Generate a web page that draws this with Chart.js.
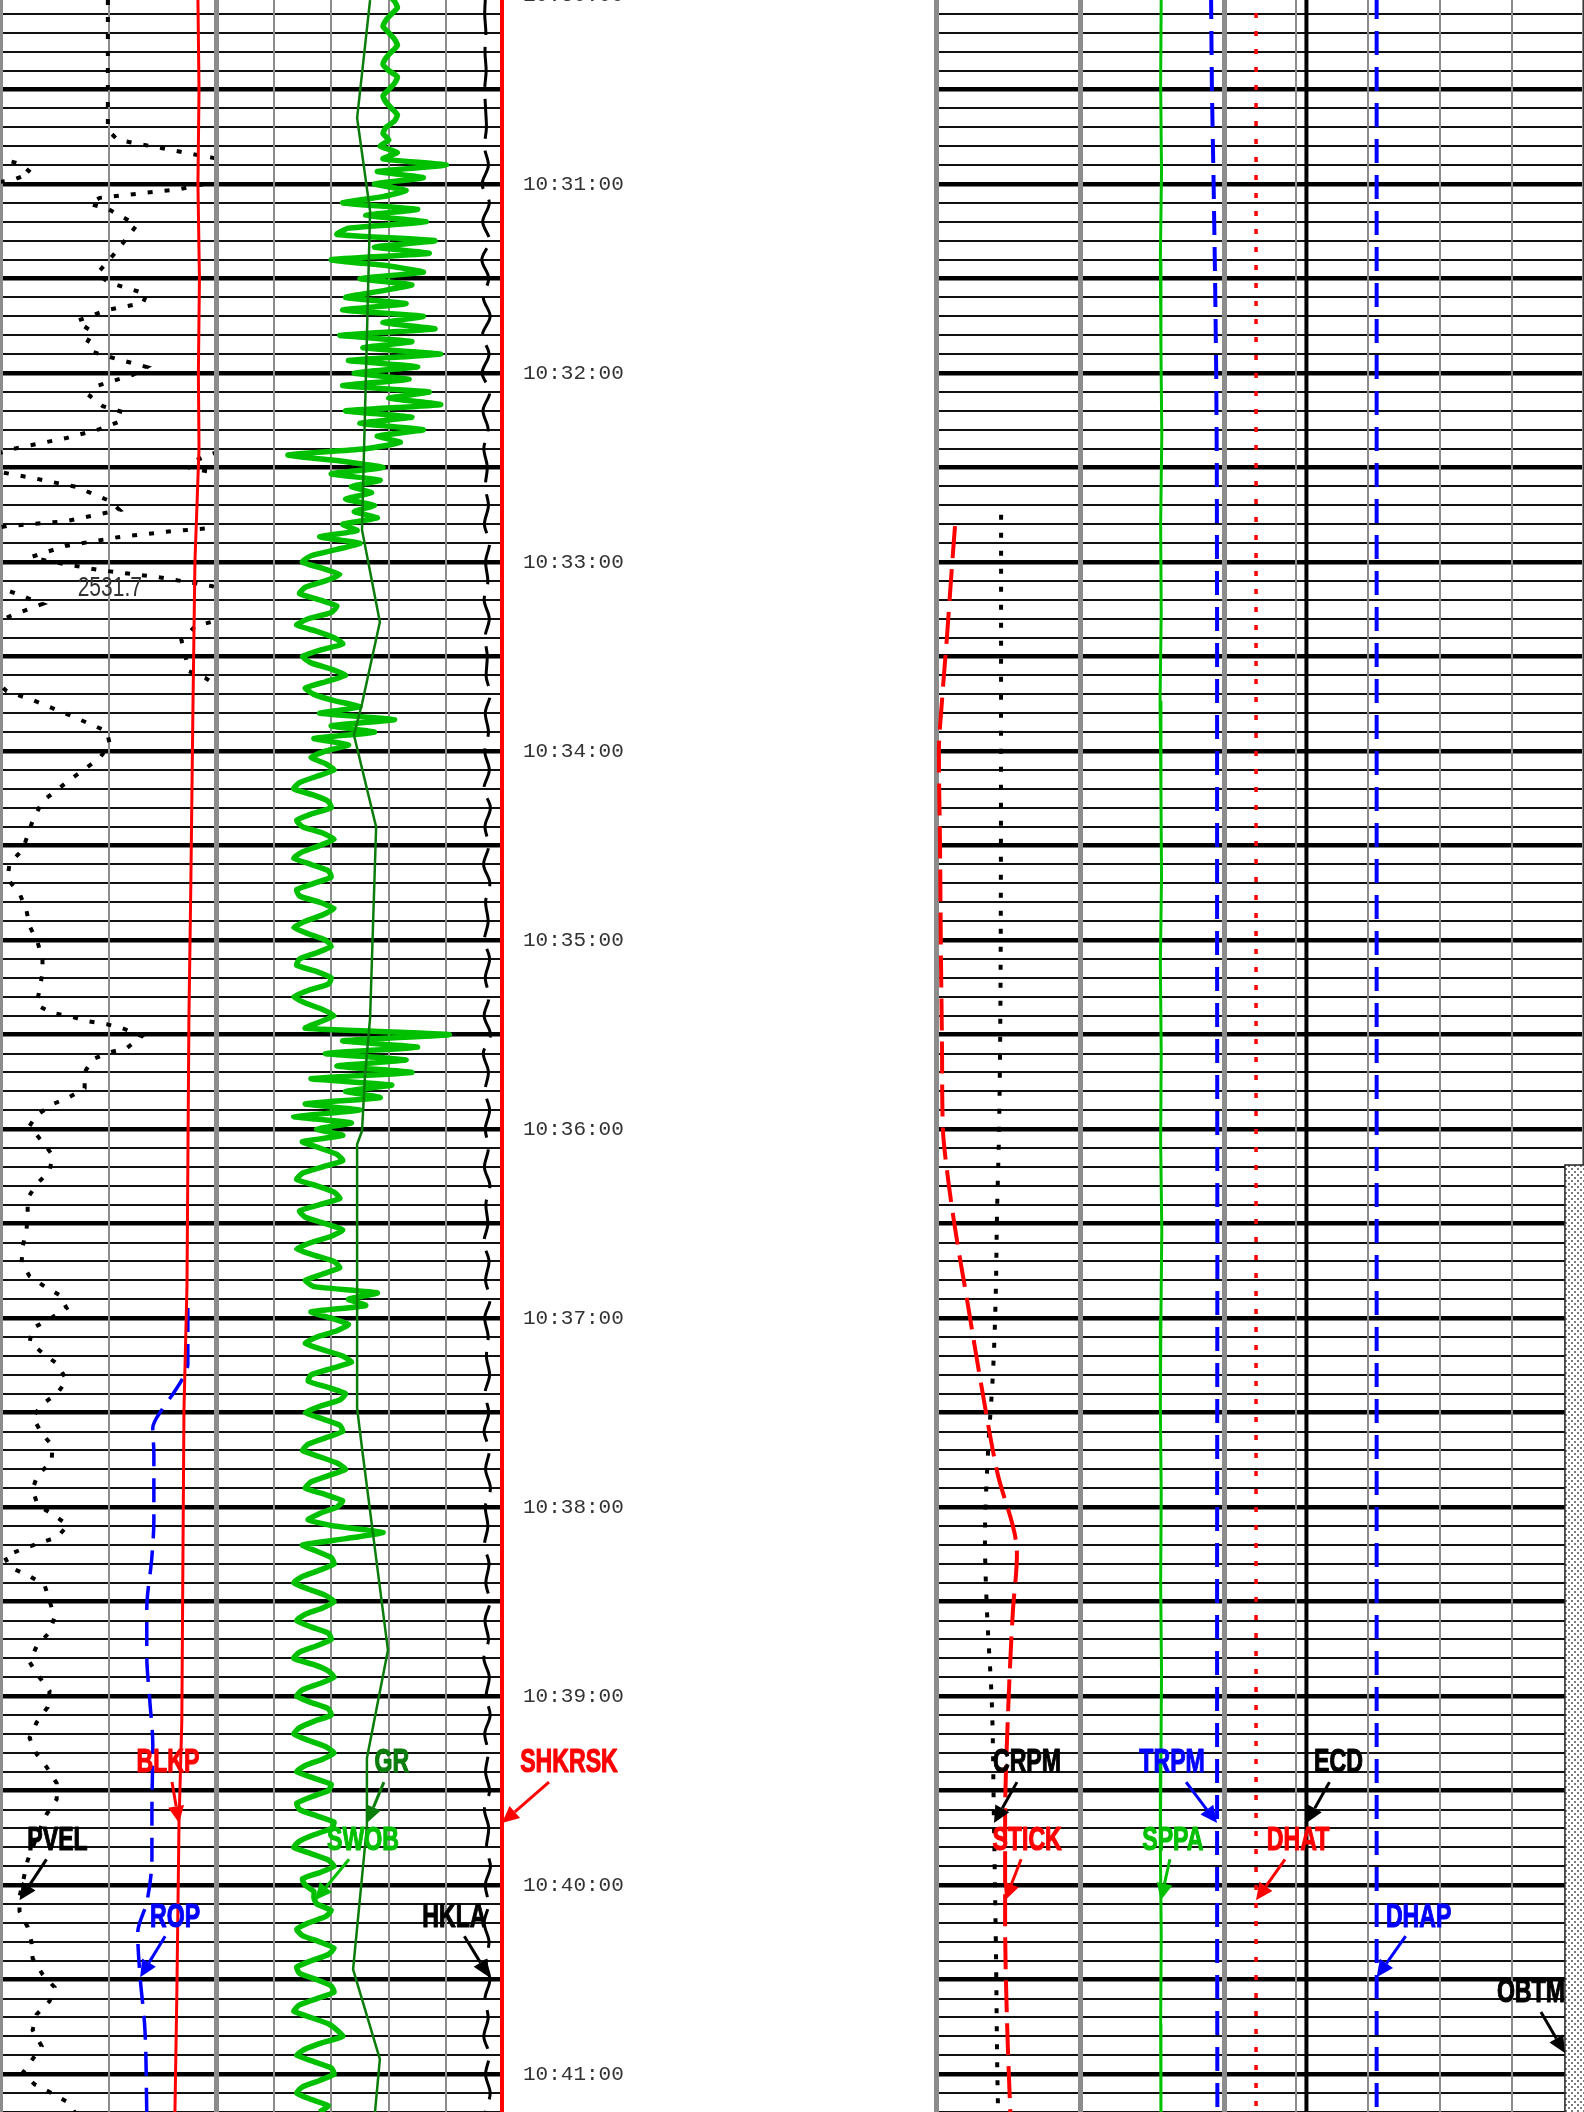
<!DOCTYPE html>
<html>
<head>
<meta charset="utf-8">
<script src="https://cdn.jsdelivr.net/npm/chart.js"></script>
<style>
  html, body { margin: 0; padding: 0; background: #fff; }
  #log { position: relative; width: 1584px; height: 2112px; overflow: hidden; background: #fff; }
  #log canvas { position: absolute; }
</style>
</head>
<body>
<div id="log"></div>
<script>
// time = seconds after 10:30:00, depth scale runs downwards
const tMin = 0, tMax = 672;

// ---------- track 1 (values in % of track width) ----------
const pvel = [[1.6, 49.7], [42.9, 49.7], [46.0, 54.3], [51.7, 98.6], [53.7, 109.3], [56.5, 114.0], [58.7, 105.6], [59.4, 99.0],
  [61.6, 83.2], [64.4, 45.9], [66.3, 41.3], [67.9, 49.7], [73.0, 63.2], [81.3, 53.8], [88.6, 44.5], [91.4, 50.6],
  [94.9, 67.8], [97.8, 66.0], [100.0, 49.2], [103.5, 35.2], [105.7, 39.9], [107.0, 42.7], [110.5, 39.9], [113.3, 42.7],
  [114.9, 50.6], [118.1, 67.8], [120.6, 61.3], [124.1, 44.5], [127.3, 41.3], [130.5, 47.3], [132.4, 56.6], [135.6, 54.3],
  [137.8, 45.9], [140.6, 30.5], [144.1, 5.4], [145.7, -2.1], [148.3, -11.4], [149.8, -13.8], [151.1, -4.9], [151.4, -0.7],
  [153.3, 14.7], [156.2, 35.2], [160.6, 50.6], [163.5, 55.2], [164.8, 45.9], [167.0, 30.5], [168.6, 2.6], [169.2, -2.1],
  [170.2, -20.7], [172.1, -45.5], [174.9, -70.2], [178.4, -86.0], [179.7, -78.1], [182.5, -54.8], [184.8, -26.8], [187.6, -2.1],
  [193.3, 19.3], [196.8, 5.4], [199.0, -2.1], [200.3, -9.6], [204.8, -16.1], [209.8, -14.2], [214.6, -12.8], [216.8, -4.9],
  [218.7, -0.7], [221.0, 2.6], [223.8, 14.7], [228.6, 31.9], [233.7, 49.2], [237.8, 50.6], [242.2, 45.9], [249.2, 31.9],
  [255.9, 19.3], [262.2, 14.7], [271.4, 10.0], [275.6, 4.0], [280.6, 3.0], [285.1, 8.6], [290.8, 11.9], [295.6, 13.3],
  [300.6, 17.0], [306.3, 19.3], [310.5, 19.3], [315.6, 17.9], [320.6, 16.6], [323.2, 24.0], [324.1, 31.9], [325.7, 39.9],
  [326.7, 49.2], [328.0, 56.6], [330.5, 65.5], [334.3, 58.5], [335.6, 50.6], [337.8, 42.7], [341.9, 38.9], [347.0, 38.9],
  [349.8, 31.9], [352.1, 24.0], [355.6, 16.6], [359.0, 13.3], [364.1, 19.3], [368.3, 24.0], [373.3, 22.6], [377.5, 16.6],
  [381.9, 12.4], [387.6, 12.4], [391.7, 11.9], [397.5, 10.0], [402.5, 9.6], [406.7, 13.3], [409.5, 19.3], [412.7, 27.3],
  [416.8, 30.5], [420.3, 22.6], [423.2, 14.7], [427.6, 13.3], [431.1, 19.3], [434.6, 26.3], [439.7, 30.5], [443.8, 26.3],
  [447.3, 19.3], [451.4, 14.7], [456.5, 18.9], [460.6, 24.0], [465.7, 23.5], [469.8, 17.0], [474.3, 14.7], [479.4, 17.0],
  [482.2, 24.0], [485.7, 31.0], [489.5, 26.3], [491.4, 17.9], [493.3, 10.0], [495.6, 1.6], [499.0, 4.0], [501.9, 13.3],
  [504.8, 20.3], [509.8, 22.6], [514.9, 24.9], [519.7, 22.6], [524.1, 16.6], [529.2, 13.3], [534.0, 17.9], [538.4, 22.6],
  [543.5, 21.7], [548.3, 16.6], [553.3, 13.3], [558.4, 16.6], [562.5, 21.2], [567.6, 25.9], [572.7, 25.9], [577.5, 21.2],
  [582.5, 17.9], [592.1, 12.4], [603.8, 8.6], [608.3, 8.6], [613.3, 12.4], [618.1, 14.2], [623.2, 14.7], [628.3, 19.3],
  [632.4, 24.9], [636.8, 22.6], [641.0, 16.6], [646.0, 14.7], [651.1, 18.9], [655.2, 14.7], [659.7, 10.0], [663.2, 15.6],
  [666.0, 23.5], [668.9, 31.0], [672.1, 34.3]];
const blkp = [[1.6, 91.6], [30, 92.1], [60, 91.6], [90, 92.3], [120, 91.8], [144, 92.1], [180, 90.2], [225, 89.3],
  [282, 88.3], [325, 87.4], [410, 86.5], [449, 85.1], [548, 84.1], [580, 82.8], [634, 81.8], [672, 80.9]];
const rop = [[416.8, 86.9], [434.6, 86.9], [439, 84.6], [445.4, 78.6], [448.6, 75.3], [454.9, 70.6], [462.9, 71.1],
  [484.1, 71.1], [495.6, 70.2], [512.7, 67.8], [527, 67.8], [541.3, 69.2], [555.6, 70.6], [576.8, 70.2], [591.1, 70.2],
  [605.4, 67.8], [615.2, 63.6], [628.3, 64.6], [645.4, 66.9], [672.1, 67.8]];
const depthMarks = [[188.3, '2531.7']];

// ---------- track 2 ----------
const gr = [[1.6, 53.5], [39, 49], [68.6, 53.5], [169.8, 50.7], [199, 56.9], [225, 50.7], [234.9, 47.9], [264.1, 55.6],
  [324.8, 53.5], [343.5, 51.7], [360.6, 50.7], [364.8, 49], [448.6, 49], [461.3, 50.7], [525.4, 59.7], [559.7, 52.4],
  [581.3, 52.4], [626.7, 47.6], [655.2, 56.9], [672.1, 55.2]];
const swobStep = 2;
const swob = [
  60,62,63,61,59,58,60,62,63,61,59,58,60,63,62,60,58,59,61,63,62,59,58,
  60,57,63,58,
  80,56,72,55,66,58,44,70,52,73,46,42,76,55,74,40,60,72,50,68,57,45,66,44,72,58,76,43,68,51,78,46,70,48,67,44,74,60,78,45,68,50,72,56,64,52,
  25,44,58,40,57,47,54,
  45,55,48,56,44,49,
  36,50,42,33,30,37,43,38,31,29,36,42,40,32,28,35,41,44,36,30,33,40,45,38,31,34,41,
  50,36,62,40,55,34,46,38,
  33,38,41,35,29,27,34,39,40,33,28,30,37,41,36,30,27,33,39,40,34,28,29,36,41,37,31,27,32,38,40,35,29,28,35,40,39,32,27,31,37,41,36,
  31,81,44,70,38,66,42,68,33,61,45,57,31,50,27,47,35,44,
  30,36,42,44,37,30,28,35,41,43,36,29,31,38,44,40,33,28,34,41,43,37,31,
  34,56,46,52,
  33,40,46,42,35,31,37,44,47,40,33,32,39,45,43,36,
  31,37,43,44,38,32,30,36,42,45,39,33,31,38,44,42,36,32,41,58,45,
  30,35,40,41,36,30,27,32,38,41,37,31,28,33,39,40,35,29,27,34,39,41,36,30,28,33,39,40,34,29,
  27,32,38,41,37,31,28,34,40,39,33,28,29,35,41,40,34,29,27,33,39,41,36,30,31,34,34,35,40,38,
  32,28,30,36,41,39,33,28,29,35,40,41,35,29,27,33,39,42,44,37,31,28,34,40,41,36,30,28,33,39,36];
const hklaStep = 6;
const hkla = [
  93.6,93.3,93.7,93.4,93.8,93.3,93.6,93.9,93.2,
  94.6,92.4,94.9,92.6,95.0,92.3,94.7,92.8,95.2,92.5,94.8,92.4,95.1,92.7,94.5,93.0,94.2,
  93.5,94.6,93.2,95.0,93.6,94.4,93.1,94.9,93.4,94.2,93.8,95.2,93.5,94.6,93.3,
  94.9,93.0,95.3,93.4,94.7,92.9,95.1,93.6,94.5,93.2,95.0,93.5,94.8,93.1,95.3,92.8,94.6,93.4,95.0,
  93.5,94.6,93.2,95.1,93.7,94.4,93.0,94.8,93.6,95.2,93.3,94.5,93.9,95.0,93.4,94.7,93.1,94.9,93.6,95.3,
  93.5,94.4,93.2,94.8,93.7,95.1,93.4,94.6,93.0,94.9,93.8,95.2,93.3,94.5,93.6,95.0,93.2,94.7,93.9,95.3,
  93.5,94.6,93.1,94.8,93.7,95.1,93.4,94.5,93.0,94.9,93.6,95.2,93.5];
const shkrsk = [[0, 99.3], [672, 99.3]];

// ---------- track 3 ----------
const crpm = [[165, 22.6], [290, 22.5], [360, 21.9], [386.3, 21.2], [414.3, 20.7], [437.1, 19.8], [461.9, 18.1],
  [489.9, 17.0], [513, 17.7], [542.5, 19.4], [578.7, 20.1], [619.7, 20.8], [669.2, 21.5], [672, 21.6]];
const stick = [[168.6, 6.6], [180.6, 5.6], [203.8, 3.8], [223.8, 2.1], [240.3, 1.0], [270.2, 1.4], [303.5, 1.7],
  [336.5, 2.1], [360, 2.4], [373, 3.8], [391.4, 6.6], [414.3, 10.8], [439, 15.3], [468.6, 21.2], [494.9, 28.1],
  [513, 26.7], [545.7, 25], [578.7, 24], [611.4, 24], [644.4, 24.7], [672, 25.8]];
const sppaStep = 28;
const sppa = [78.2,78.0,78.3,77.9,78.1,78.4,78.0,78.2,77.8,78.1,78.3,77.9,78.2,78.0,78.4,78.1,77.9,78.2,78.0,78.3,78.1,77.9,78.2,78.0,78.1];
const trpm = [[0, 95.5], [30, 95.8], [60, 96.4], [90, 96.9], [120, 97.3], [150, 97.5], [200, 97.6], [300, 97.6],
  [400, 97.7], [500, 97.6], [600, 97.6], [672, 97.7]];

// ---------- track 4 ----------
const dhat = [[0, 8.9], [672, 8.9]];
const ecd = [[0, 22.9], [672, 22.9]];
const dhap = [[0, 42.4], [672, 42.4]];
const obtm = [[0, 100], [371.4, 100], [371.4, 94.7], [672, 94.7]];

const series = {
  PVEL: pvel, BLKP: blkp, ROP: rop,
  GR: gr, SWOB: swob.map((v, i) => [i * swobStep, v]), HKLA: hkla.map((v, i) => [i * hklaStep, v]), SHKRSK: shkrsk,
  CRPM: crpm, STICK: stick, SPPA: sppa.map((v, i) => [i * sppaStep, v]), TRPM: trpm,
  DHAT: dhat, ECD: ecd, DHAP: dhap, OBTM: obtm
};

const styles = {
  PVEL:   { color: '#000000', width: 4, dash: [5, 12] },
  BLKP:   { color: '#ff0000', width: 3 },
  ROP:    { color: '#0000ff', width: 3.5, dash: [24, 12], smooth: true },
  GR:     { color: '#0b7d0b', width: 2.5 },
  SWOB:   { color: '#00c000', width: 5.5, tension: 0.15 },
  HKLA:   { color: '#000000', width: 3, dash: [40, 12], smooth: true },
  SHKRSK: { color: '#ff0000', width: 4 },
  CRPM:   { color: '#000000', width: 4, dash: [5, 13], smooth: true },
  STICK:  { color: '#ff0000', width: 4, dash: [32, 11], smooth: true },
  SPPA:   { color: '#00c000', width: 3 },
  TRPM:   { color: '#0000ff', width: 4, dash: [24, 12] },
  DHAT:   { color: '#ff0000', width: 3.5, dash: [5, 13] },
  ECD:    { color: '#000000', width: 4 },
  DHAP:   { color: '#0000ff', width: 4, dash: [24, 12] },
  OBTM:   { color: '#222222', width: 1.5 }
};

// curve name tags: tip time on the curve, arrow start / text centre offsets (px)
const tags = [
  { s: 'BLKP', t: 580.3, ax: -7, tx: -11 }, { s: 'GR', t: 580.3, ax: 17, tx: 25 },
  { s: 'SHKRSK', t: 580.3, ax: 47, tx: 67 }, { s: 'CRPM', t: 580.3, ax: 23, tx: 33 },
  { s: 'TRPM', t: 580.3, ax: -31, tx: -45 }, { s: 'ECD', t: 580.3, ax: 23, tx: 32 },
  { s: 'PVEL', t: 604.8, ax: 27, tx: 38 }, { s: 'SWOB', t: 604.8, ax: 34, tx: 48 },
  { s: 'STICK', t: 604.8, ax: 16, tx: 22 }, { s: 'SPPA', t: 604.8, ax: 9, tx: 12 },
  { s: 'DHAT', t: 604.8, ax: 29, tx: 42 }, { s: 'ROP', t: 629.2, ax: 25, tx: 35 },
  { s: 'HKLA', t: 629.2, ax: -25, tx: -35 }, { s: 'DHAP', t: 629.2, ax: 29, tx: 42 },
  { s: 'OBTM', t: 653.3, ax: -24, tx: -34 }
];

function dotPattern() {
  const c = document.createElement('canvas');
  c.width = 6; c.height = 6;
  const g = c.getContext('2d');
  g.fillStyle = '#ffffff'; g.fillRect(0, 0, 6, 6);
  g.fillStyle = '#7a7a7a'; g.fillRect(0, 0, 2, 2); g.fillRect(3, 3, 2, 2);
  return g.createPattern(c, 'repeat');
}

function line(name, axis, label, extra) {
  const st = styles[name];
  return Object.assign({
    label: label || name, xAxisID: axis || 'x', yAxisID: 'y', indexAxis: 'y',
    data: series[name].map(p => ({ x: p[1], y: p[0] })),
    borderColor: st.color, borderWidth: st.width, borderDash: st.dash || [],
    pointRadius: 0, fill: false, tension: st.tension || 0,
    cubicInterpolationMode: st.smooth ? 'monotone' : 'default',
    clip: 0
  }, extra || {});
}

const tracks = [
  { left: 1, right: 216, step: 50, lines: { 0: 3, 50: 2, 100: 5 }, depth: true,
    sets: [line('BLKP'), line('ROP'), line('PVEL'), line('PVEL', 'xUp', 'PVEL~up'), line('PVEL', 'xDn', 'PVEL~dn')] },
  { left: 216, right: 504, step: 20, lines: { 0: 5, 100: 0 }, times: true,
    sets: [line('SHKRSK'), line('GR'), line('SWOB'), line('HKLA')] },
  { left: 936, right: 1224, step: 50, lines: { 0: 5, 50: 5, 100: 5 },
    sets: [line('STICK'), line('CRPM'), line('SPPA'), line('TRPM')] },
  { left: 1224, right: 1584, step: 20, lines: { 0: 5, 100: 5 },
    sets: [line('OBTM', 'x', null, { fill: { value: 100 }, backgroundColor: dotPattern() }),
           line('ECD'), line('DHAT'), line('DHAP')] }
];

function valueAt(pts, t) {
  for (let i = 1; i < pts.length; i++) {
    if (t <= pts[i][0]) {
      const f = (t - pts[i - 1][0]) / ((pts[i][0] - pts[i - 1][0]) || 1);
      return pts[i - 1][1] + f * (pts[i][1] - pts[i - 1][1]);
    }
  }
  return pts[pts.length - 1][1];
}

function clock(t) {
  const s = 10 * 3600 + 30 * 60 + Math.round(t);
  const mm = Math.floor(s % 3600 / 60), ss = s % 60;
  return Math.floor(s / 3600) + ':' + String(mm).padStart(2, '0') + ':' + String(ss).padStart(2, '0');
}

function arrow(ctx, x0, y0, x1, y1, color) {
  const a = Math.atan2(y1 - y0, x1 - x0), L = 17, W = 8;
  const bx = x1 - L * Math.cos(a), by = y1 - L * Math.sin(a);
  ctx.strokeStyle = color; ctx.lineWidth = 3; ctx.setLineDash([]);
  ctx.beginPath(); ctx.moveTo(x0, y0); ctx.lineTo(bx, by); ctx.stroke();
  ctx.fillStyle = color;
  ctx.beginPath(); ctx.moveTo(x1, y1);
  ctx.lineTo(bx + W * Math.sin(a), by - W * Math.cos(a));
  ctx.lineTo(bx - W * Math.sin(a), by + W * Math.cos(a));
  ctx.closePath(); ctx.fill();
}

function notes(tr) {
  return {
    id: 'notes',
    afterDraw(chart) {
      const ctx = chart.ctx, ys = chart.scales.y;
      ctx.save();
      if (tr.depth) {
        depthMarks.forEach(([t, txt]) => {
          ctx.save();
          ctx.translate(chart.scales.x.getPixelForValue(50.6), ys.getPixelForValue(t));
          ctx.scale(0.75, 1);
          ctx.font = '28px "Liberation Sans", Arial, sans-serif';
          ctx.fillStyle = '#333'; ctx.textAlign = 'center'; ctx.textBaseline = 'middle';
          ctx.fillText(txt, 0, 0);
          ctx.restore();
        });
      }
      tags.forEach(tag => {
        const ds = chart.data.datasets.find(d => d.label === tag.s);
        if (!ds) return;
        let v = valueAt(series[tag.s], tag.t);
        if (v < 0 || v > 100) v = ((v % 100) + 100) % 100;
        const x = chart.scales[ds.xAxisID].getPixelForValue(v), y = ys.getPixelForValue(tag.t);
        const color = styles[tag.s].color === '#222222' ? '#000' : styles[tag.s].color;
        arrow(ctx, x + tag.ax, y - 41, x, y, color);
        ctx.save();
        ctx.translate(x + tag.tx, y - 60);
        ctx.scale(0.68, 1);
        ctx.font = 'bold 34px "Liberation Sans", Arial, sans-serif';
        ctx.fillStyle = color; ctx.strokeStyle = color; ctx.lineWidth = 1.2; ctx.lineJoin = 'round';
        ctx.textAlign = 'center'; ctx.textBaseline = 'middle';
        ctx.fillText(tag.s, 0, 0);
        ctx.strokeText(tag.s, 0, 0);
        ctx.restore();
      });
      ctx.restore();
    }
  };
}

const PAD = 4, H = 2117, LABW = 130;
const hidden = (min, max) => ({ type: 'linear', display: false, min: min, max: max });

tracks.forEach(tr => {
  const cv = document.createElement('canvas');
  const w = tr.right - tr.left + PAD + (tr.times ? LABW : PAD);
  cv.width = w; cv.height = H;
  cv.style.left = (tr.left - PAD) + 'px';
  cv.style.top = '-5px';
  cv.style.width = w + 'px'; cv.style.height = H + 'px';
  document.getElementById('log').appendChild(cv);

  const vw = v => (tr.lines[Math.round(v)] !== undefined ? tr.lines[Math.round(v)] : 2);
  const scales = {
    y: {
      type: 'linear', min: tMin, max: tMax, reverse: true, position: 'left',
      ticks: { display: false, stepSize: 6, autoSkip: false },
      grid: {
        z: -2, drawTicks: false,
        color: c => (Math.round(c.tick.value) % 30 === 0 ? '#000' : '#111'),
        lineWidth: c => (Math.round(c.tick.value) % 30 === 0 ? 4.5 : 2)
      },
      border: { display: false },
      afterFit: s => { s.width = 0; s.paddingTop = 0; s.paddingBottom = 0; }
    },
    x: {
      type: 'linear', min: 0, max: 100, position: 'bottom',
      ticks: { display: false, stepSize: tr.step },
      grid: {
        z: -1, drawTicks: false,
        color: c => (vw(c.tick.value) ? '#8c8c8c' : 'rgba(0,0,0,0)'),
        lineWidth: c => vw(c.tick.value) || 1
      },
      border: { display: false },
      afterFit: s => { s.height = 0; s.paddingLeft = 0; s.paddingRight = 0; }
    },
    xUp: hidden(100, 200),
    xDn: hidden(-100, 0)
  };
  if (tr.times) {
    scales.yLab = {
      type: 'linear', min: tMin, max: tMax, reverse: true, position: 'right',
      ticks: { stepSize: 60, autoSkip: false, padding: 19, color: '#333',
               font: { family: '"Liberation Mono", monospace', size: 21 },
               callback: v => (Math.round(v) % 60 === 0 ? clock(v) : '') },
      grid: { display: false, drawTicks: false },
      border: { display: false },
      afterFit: s => { s.width = LABW; s.paddingTop = 0; s.paddingBottom = 0; }
    };
  }

  new Chart(cv, {
    type: 'line',
    data: { datasets: tr.sets },
    options: {
      responsive: false,
      animation: false,
      devicePixelRatio: 1,
      indexAxis: 'y',
      events: [],
      layout: { autoPadding: false, padding: { left: PAD, right: tr.times ? 0 : PAD, top: 0, bottom: 0 } },
      plugins: { legend: { display: false }, tooltip: { enabled: false } },
      scales: scales
    },
    plugins: [notes(tr)]
  });
});
</script>
</body>
</html>
